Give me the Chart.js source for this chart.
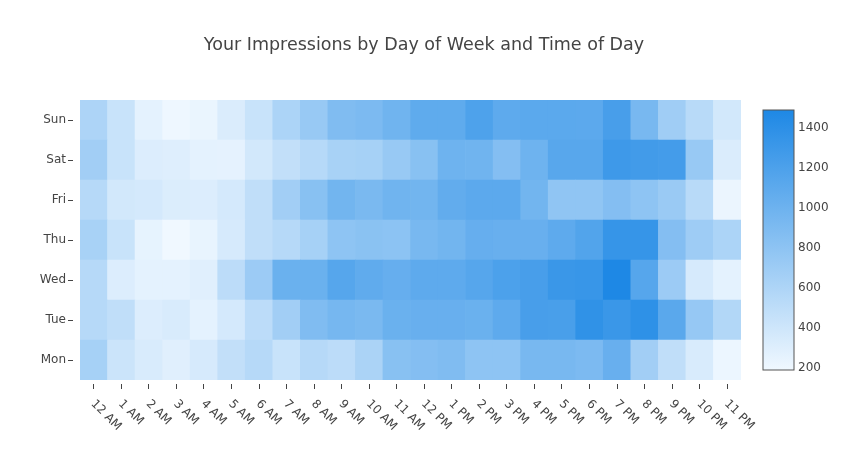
<!DOCTYPE html>
<html lang="en">
<head>
<meta charset="UTF-8">
<title>Your Impressions by Day of Week and Time of Day</title>
<script src="https://cdn.jsdelivr.net/npm/chart.js"></script>
<style>
  body { margin: 0; background: #fff; }
  #wrap { width: 848px; height: 450px; }
</style>
</head>
<body>
<div id="wrap"><canvas id="heat" width="848" height="450"></canvas></div>
<script>
  // rows bottom to top, columns are hours of the day
  const days = ['Mon', 'Tue', 'Wed', 'Thu', 'Fri', 'Sat', 'Sun'];
  const hours = ['12 AM', '1 AM', '2 AM', '3 AM', '4 AM', '5 AM', '6 AM', '7 AM', '8 AM', '9 AM', '10 AM', '11 AM',
                 '12 PM', '1 PM', '2 PM', '3 PM', '4 PM', '5 PM', '6 PM', '7 PM', '8 PM', '9 PM', '10 PM', '11 PM'];

  const mon = [648, 419, 339, 289, 351, 475, 549, 438, 549, 512, 617, 834, 859, 883, 797, 797, 933, 933, 908, 1032, 673, 488, 339, 215];
  const tue = [549, 488, 314, 339, 264, 363, 512, 673, 883, 945, 920, 1019, 1032, 1032, 1019, 1094, 1230, 1222, 1378, 1317, 1391, 1118, 747, 574];
  const wed = [549, 314, 264, 264, 289, 512, 710, 1019, 1019, 1143, 1081, 1044, 1094, 1094, 1143, 1205, 1230, 1317, 1329, 1490, 1143, 710, 351, 264];
  const thu = [636, 438, 252, 190, 240, 351, 488, 549, 648, 797, 821, 809, 933, 970, 1044, 1032, 1032, 1094, 1168, 1341, 1341, 859, 698, 611];
  const fri = [549, 376, 363, 320, 314, 363, 488, 673, 834, 970, 920, 982, 970, 1069, 1106, 1106, 970, 784, 784, 859, 797, 722, 537, 221];
  const sat = [673, 438, 314, 301, 264, 258, 376, 475, 549, 636, 648, 735, 834, 995, 982, 859, 995, 1131, 1131, 1292, 1267, 1255, 735, 326];
  const sun = [605, 438, 264, 202, 227, 326, 438, 611, 735, 883, 908, 982, 1088, 1088, 1193, 1094, 1112, 1112, 1106, 1230, 933, 685, 537, 376];
  const rows = [mon, tue, wed, thu, fri, sat, sun];

  const zMin = 190;
  const zMax = 1490;
  const cbTicks = [200, 400, 600, 800, 1000, 1200, 1400];

  const FONT = '"DejaVu Sans", Verdana, sans-serif';
  const lo = [240, 248, 255];
  const hi = [30, 136, 229];

  function colorFor(v) {
    let t = (v - zMin) / (zMax - zMin);
    t = Math.max(0, Math.min(1, t));
    const c = lo.map((a, k) => Math.round(a + (hi[k] - a) * t));
    return 'rgb(' + c.join(',') + ')';
  }

  // every cell is a stacked bar of height 1
  const datasets = rows.map((vals, i) => ({
    label: days[i],
    data: vals.map(() => 1),
    backgroundColor: vals.map(colorFor),
    borderWidth: 0,
    barPercentage: 1,
    categoryPercentage: 1
  }));

  // x labels at +45deg and the colour bar
  const extras = {
    id: 'extras',
    afterDraw(chart) {
      const ctx = chart.ctx;
      const xs = chart.scales.x;
      const area = chart.chartArea;
      ctx.save();
      ctx.fillStyle = '#444';
      ctx.font = '12px ' + FONT;
      ctx.textAlign = 'left';
      ctx.textBaseline = 'middle';
      hours.forEach((h, i) => {
        const x = xs.getPixelForTick(i);
        ctx.save();
        ctx.translate(x - 1, area.bottom + 22);
        ctx.rotate(Math.PI / 4);
        ctx.fillText(h, 0, 0);
        ctx.restore();
      });

      // colour bar
      const cbL = 763, cbR = 794, cbT = 110, cbB = 370;
      const yFor = v => cbB - (v - zMin) / (zMax - zMin) * (cbB - cbT);
      const g = ctx.createLinearGradient(0, cbB, 0, cbT);
      g.addColorStop(0, colorFor(zMin));
      g.addColorStop(1, colorFor(zMax));
      ctx.fillStyle = g;
      ctx.fillRect(cbL, cbT, cbR - cbL, cbB - cbT);
      ctx.strokeStyle = '#555';
      ctx.lineWidth = 1;
      ctx.strokeRect(cbL, cbT, cbR - cbL, cbB - cbT);
      ctx.fillStyle = '#444';
      cbTicks.forEach(v => ctx.fillText(String(v), cbR + 4, yFor(v)));
      ctx.restore();
    }
  };

  new Chart(document.getElementById('heat'), {
    type: 'bar',
    data: { labels: hours, datasets: datasets },
    options: {
      responsive: false,
      animation: false,
      events: [],
      layout: { padding: 0 },
      plugins: {
        legend: { display: false },
        tooltip: { enabled: false },
        title: {
          display: true,
          text: 'Your Impressions by Day of Week and Time of Day',
          color: '#444',
          font: { family: FONT, size: 17.5, weight: 'normal' },
          padding: { top: 35, bottom: 44 }
        }
      },
      scales: {
        x: {
          stacked: true,
          grid: {
            offset: false,
            drawOnChartArea: false,
            tickLength: 9,
            tickColor: '#444',
            tickBorderDash: [0, 4, 5, 100]
          },
          border: { display: false },
          ticks: { display: false },
          afterFit(axis) { axis.height = 70; }
        },
        y: {
          stacked: true,
          min: 0,
          max: 7,
          afterBuildTicks(axis) {
            axis.ticks = days.map((d, i) => ({ value: i + 0.5 }));
          },
          grid: {
            drawOnChartArea: false,
            tickLength: 12,
            tickColor: '#444',
            tickBorderDash: [5, 100]
          },
          border: { display: false },
          ticks: {
            color: '#444',
            padding: 2,
            font: { family: FONT, size: 12 },
            callback: v => days[Math.floor(v)]
          },
          afterFit(axis) { axis.width = 80; }
        },
        // empty right-hand axis keeps room for the colour bar
        cb: {
          type: 'linear',
          position: 'right',
          display: true,
          grid: { display: false },
          border: { display: false },
          ticks: { display: false },
          afterFit(axis) { axis.width = 107; }
        }
      }
    },
    plugins: [extras]
  });
</script>
</body>
</html>
